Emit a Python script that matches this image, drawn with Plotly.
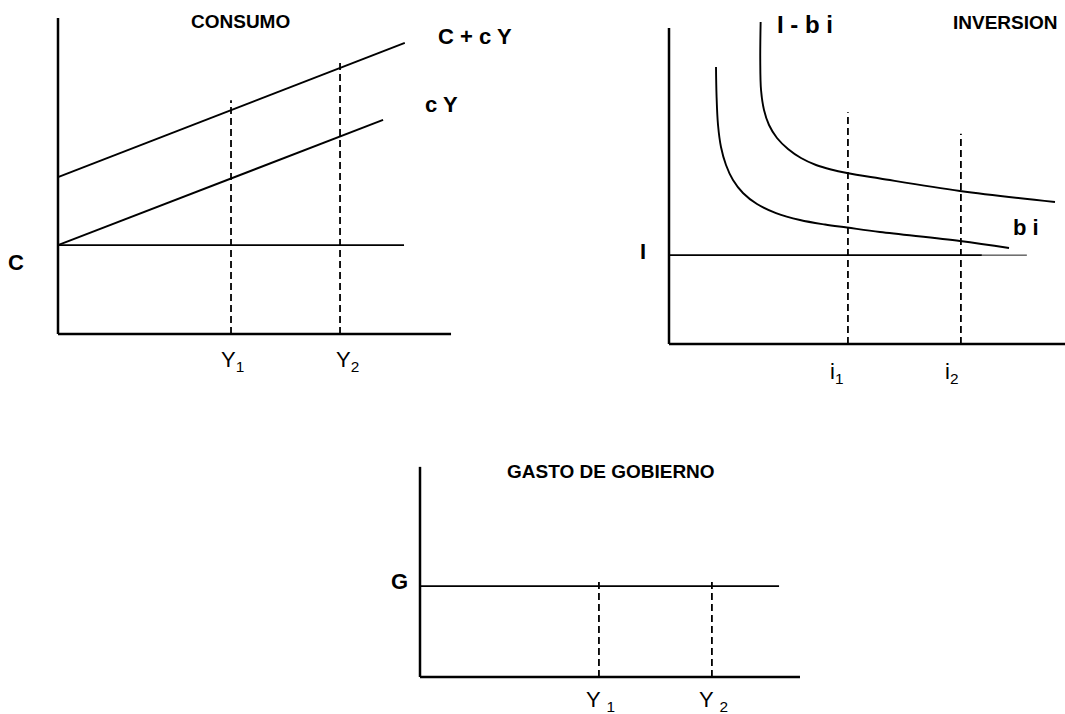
import plotly.graph_objects as go

W, H = 1065, 714
S = 39.5  # pixels per data unit (same in every panel)

# ---------------- Panel 1: CONSUMO ----------------
cons_axis_end = [9.95, 8.0]          # x-axis length, y-axis height
cons_total_x = [0, 8.78]
cons_total_y = [3.97, 7.37]          # C + cY
cons_var_x = [0, 8.23]
cons_var_y = [2.25, 5.42]            # cY
cons_level_x = [0, 8.76]
cons_level_y = [2.25, 2.25]          # C
cons_marks_x = [4.38, 7.14]          # Y1, Y2
cons_marks_top = [5.92, 6.91]

# ---------------- Panel 2: INVERSION ----------------
inv_axis_end = [10.03, 8.0]
inv_bi_x = [1.190, 1.203, 1.241, 1.316, 1.443, 1.620, 1.873, 2.228, 2.709,
            3.316, 3.949, 4.506, 5.342, 7.367, 8.608]
inv_bi_y = [7.013, 6.304, 5.544, 4.987, 4.532, 4.152, 3.823, 3.544, 3.316,
            3.139, 3.025, 2.949, 2.835, 2.608, 2.430]
inv_tot_x = [2.32, 2.31, 2.33, 2.405, 2.532, 2.734, 3.013, 3.342, 3.722,
             4.101, 4.506, 5.342, 7.367, 9.772]
inv_tot_y = [8.152, 7.190, 6.430, 5.924, 5.544, 5.215, 4.937, 4.709, 4.532,
             4.418, 4.329, 4.190, 3.873, 3.595]
inv_level = 2.25
inv_level_end = [7.92, 9.06]         # thick part end, thin part end
inv_marks_x = [4.53, 7.39]           # i1, i2
inv_marks_top = [5.87, 5.32]

# ---------------- Panel 3: GASTO DE GOBIERNO ----------------
gov_axis_end = [9.62, 5.32]
gov_level_x = [0, 9.09]
gov_level_y = [2.30, 2.30]
gov_marks_x = [4.53, 7.39]
gov_marks_top = [2.48, 2.48]

# panel layout: origin pixel, bounding box pixels (x0, x1, y0, y1)
panels = {
    1: dict(origin=(58, 334), box=(0, 540, 0, 392)),
    2: dict(origin=(669, 344), box=(600, 1065, 0, 392)),
    3: dict(origin=(420, 677), box=(370, 830, 440, 714)),
}

fig = go.Figure()
BLACK = "#000000"
FONT = "Liberation Sans, Arial, Helvetica, sans-serif"


def ax(i):
    return ("x" if i == 1 else f"x{i}"), ("y" if i == 1 else f"y{i}")


def line(i, xs, ys, width=1.9, dash=None, shape="linear"):
    xa, ya = ax(i)
    fig.add_trace(go.Scatter(
        x=xs, y=ys, mode="lines", xaxis=xa, yaxis=ya,
        line=dict(color=BLACK, width=width, dash=dash, shape=shape, smoothing=1.0),
        hoverinfo="skip", showlegend=False))


def axes_lines(i, ends):
    line(i, [0, 0], [ends[1], 0], width=2.5)
    line(i, [0, ends[0]], [0, 0], width=2.5)


def marks(i, xs, tops):
    for x, t in zip(xs, tops):
        line(i, [x, x], [0, t], width=1.8, dash="7px,4px")


# Panel 1
axes_lines(1, cons_axis_end)
line(1, cons_total_x, cons_total_y)
line(1, cons_var_x, cons_var_y)
line(1, cons_level_x, cons_level_y)
marks(1, cons_marks_x, cons_marks_top)

# Panel 2
axes_lines(2, inv_axis_end)
line(2, inv_bi_x, inv_bi_y, shape="spline")
line(2, inv_tot_x, inv_tot_y, shape="spline")
line(2, [0, inv_level_end[0]], [inv_level, inv_level], width=1.9)
line(2, [inv_level_end[0], inv_level_end[1]], [inv_level, inv_level], width=0.9)
marks(2, inv_marks_x, inv_marks_top)

# Panel 3
axes_lines(3, gov_axis_end)
line(3, gov_level_x, gov_level_y)
marks(3, gov_marks_x, gov_marks_top)

# annotations (text, position in panel data units, size, bold)
labels = [
    (1, "CONSUMO", 4.61, 7.92, 19, True),
    (1, "C + c Y", 10.56, 7.52, 22, True),
    (1, "c Y", 9.72, 5.80, 22, True),
    (1, "C", -1.06, 1.80, 22, True),
    (1, "Y<sub>1</sub>", 4.43, -0.68, 22, False),
    (1, "Y<sub>2</sub>", 7.34, -0.68, 22, False),
    (2, "I - b i", 3.44, 8.08, 24, True),
    (2, "INVERSION", 8.51, 8.15, 19, True),
    (2, "b i", 9.04, 2.96, 22, True),
    (2, "I", -0.66, 2.33, 22, True),
    (2, "i<sub>1</sub>", 4.23, -0.73, 22, False),
    (2, "i<sub>2</sub>", 7.16, -0.73, 22, False),
    (3, "GASTO DE GOBIERNO", 4.84, 5.19, 19, True),
    (3, "G", -0.51, 2.41, 22, True),
    (3, "Y <sub>1</sub>", 4.56, -0.60, 22, False),
    (3, "Y <sub>2</sub>", 7.44, -0.60, 22, False),
]
for i, txt, x, y, size, bold in labels:
    xa, ya = ax(i)
    fig.add_annotation(
        x=x, y=y, xref=xa, yref=ya, text=f"<b>{txt}</b>" if bold else txt,
        showarrow=False, xanchor="center", yanchor="middle",
        font=dict(family=FONT, size=size, color=BLACK))

layout_axes = {}
for i, p in panels.items():
    ox, oy = p["origin"]
    x0, x1, y0, y1 = p["box"]
    xname = "xaxis" if i == 1 else f"xaxis{i}"
    yname = "yaxis" if i == 1 else f"yaxis{i}"
    xa, ya = ax(i)
    layout_axes[xname] = dict(domain=[x0 / W, x1 / W], range=[(x0 - ox) / S, (x1 - ox) / S],
                              visible=False, anchor=ya, fixedrange=True)
    layout_axes[yname] = dict(domain=[1 - y1 / H, 1 - y0 / H], range=[(oy - y1) / S, (oy - y0) / S],
                              visible=False, anchor=xa, fixedrange=True)

fig.update_layout(
    width=W, height=H, margin=dict(l=0, r=0, t=0, b=0),
    paper_bgcolor="white", plot_bgcolor="white", showlegend=False,
    **layout_axes)

fig.write_html(
    "out.html", config={"displayModeBar": False},
    post_script="document.body.style.margin='0px';document.body.style.overflow='hidden';")
